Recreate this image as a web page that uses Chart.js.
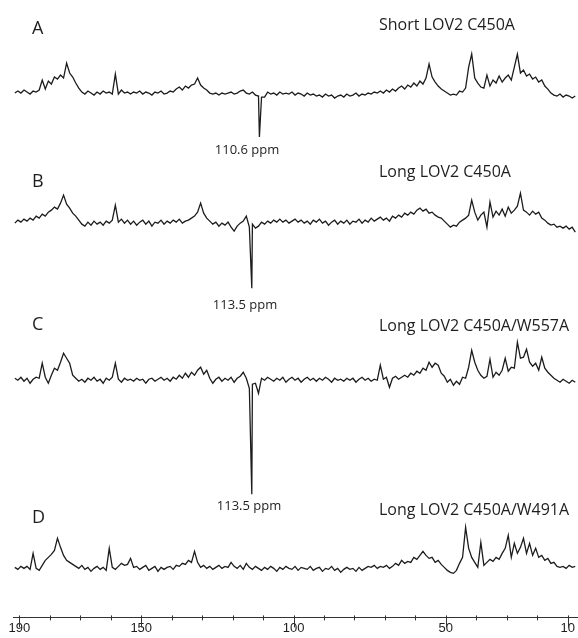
<!DOCTYPE html>
<html>
<head>
<meta charset="utf-8">
<script src="https://cdn.jsdelivr.net/npm/chart.js@4.4.1/dist/chart.umd.min.js"></script>
<style>
  html, body { margin: 0; padding: 0; background: #fff; }
  #wrap { width: 578px; height: 638px; position: relative; }
</style>
</head>
<body>
<div id="wrap"><canvas id="nmrChart"></canvas></div>
<script>
// Chemical shift grid (ppm), one point per ppm, high to low
const PPM_FIRST = 191.5;
const PPM_COUNT = 185;
const ppm = Array.from({ length: PPM_COUNT }, (_, i) => PPM_FIRST - i);

// Spectrum intensities (arbitrary units)
const shortC450A = [
  2, 4, 2, 5, 3, 1, 4, 3, 5, 15,
  6, 14, 11, 18, 16, 20, 17, 32, 22, 18,
  12, 7, 3, 1, 4, 2, 0, 3, 1, 4,
  2, 3, 1, 21, 1, 5, 2, 3, 1, 3,
  2, 4, 1, 3, 2, 0, 3, 2, 4, 1,
  2, 4, 3, 6, 8, 5, 9, 7, 10, 11,
  17, 10, 7, 5, 2, 1, 2, 0, 2, 1,
  2, 3, 1, 2, 4, 5, 2, 1, 3, 0,
  -1, -2, -2, 3, 1, 2, 0, 3, 1, 2,
  1, 3, 0, 2, 1, -1, 2, 0, 1, -1,
  0, -2, 1, -1, 0, -3, -1, 0, -2, 1,
  -1, 0, 2, -1, 1, 0, 2, 1, 3, 2,
  4, 2, 5, 3, 6, 4, 7, 9, 6, 10,
  8, 12, 9, 14, 11, 17, 31, 18, 13, 9,
  6, 4, 2, 0, 1, 0, 4, 3, 7, 28,
  41, 17, 12, 8, 7, 20, 9, 15, 12, 19,
  13, 17, 20, 15, 28, 41, 22, 25, 19, 21,
  16, 18, 13, 15, 9, 6, 2, 0, -1, 1,
  -2, 0, -1, -3, -1
];
const longC450A = [
  1, 4, 2, 5, 3, 6, 4, 8, 6, 10,
  8, 12, 14, 17, 15, 21, 29, 20, 16, 11,
  8, 4, 0, -2, 2, -1, 3, 0, 2, -1,
  3, 1, 4, 19, 2, 5, 1, 4, 0, 3,
  -1, 2, 4, 0, 3, -2, 2, 1, 4, 0,
  3, 1, 4, 2, 5, 1, 3, 4, 6, 8,
  12, 21, 11, 6, 3, 0, 2, -2, 1, -1,
  2, -3, -7, -2, 1, 3, 8, -3, 0, -4,
  -2, 2, 0, 3, 1, 4, 2, 5, 2, 4,
  1, 3, 5, 2, 4, 1, 3, 0, 4, 2,
  5, 1, 3, -1, 2, 4, 0, 3, 1, 4,
  0, 3, 2, 5, 1, 4, 2, 6, 3, 5,
  7, 4, 6, 3, 8, 6, 9, 7, 11, 9,
  12, 10, 14, 16, 13, 15, 11, 12, 9, 7,
  6, 3, 0, -3, -1, -2, 2, 4, 6, 9,
  24, 12, 4, 9, 12, -3, 22, 7, 13, 9,
  15, 8, 17, 11, 14, 18, 31, 14, 12, 9,
  13, 10, 12, 6, 4, 1, -1, 0, -3, -2,
  -4, -2, -5, -3, -8
];
const longW557A = [
  2, 0, 3, -1, 2, -3, 1, 3, 2, 17,
  3, -3, 5, 12, 10, 18, 27, 22, 17, 5,
  2, -1, 1, -2, 2, 0, 3, -1, 1, -3,
  2, 0, 3, 17, 1, -2, 2, 0, 1, -1,
  2, 0, 1, -3, 1, 2, -1, 1, 3, 0,
  2, -1, 3, 1, 5, 2, 7, 3, 8, 5,
  10, 13, 6, 10, 2, -3, 1, 3, -1, 2,
  0, 3, -2, 2, 4, 8, 2, -8, -4, -3,
  -13, 2, 0, 3, 1, -1, 2, 0, 3, -2,
  1, 3, 0, 2, -2, 1, 3, 0, 2, -1,
  2, 0, 3, 1, -2, 2, 0, 1, -1, 2,
  0, 2, -2, 1, 3, 0, 2, -1, 1, 0,
  15, 1, 3, -7, 2, 4, 1, 3, 5, 3,
  7, 5, 9, 7, 12, 10, 18, 13, 17, 15,
  7, 4, -2, 1, -5, -1, -4, 3, 2, 13,
  30, 18, 10, 5, 2, 4, 21, 3, 8, 5,
  10, 22, 9, 13, 12, 38, 22, 23, 31, 18,
  14, 17, 10, 23, 12, 8, 5, 2, 0, -2,
  1, -1, -3, 0, -2
];
const longW491A = [
  1, -1, 2, 0, 2, -1, 15, 0, -2, 3,
  8, 11, 14, 18, 30, 21, 13, 8, 6, 4,
  2, 0, 3, -1, 1, -3, 0, 2, -1, 1,
  -2, 20, 1, -1, 2, 5, 3, 4, 10, 1,
  2, -1, 1, 3, -2, 0, 2, -3, 1, -1,
  1, 2, -1, 3, 2, 5, 4, 8, 6, 17,
  6, 1, 3, 0, 2, -1, 1, 3, 0, 2,
  1, 6, 2, 0, 3, -1, 5, 1, -1, 2,
  0, -2, 1, -1, 2, 0, -3, 1, -1, 2,
  0, -1, 2, -2, 1, 0, -1, 2, -2, 0,
  1, -3, 0, -1, 2, -2, 0, -4, -1, 1,
  -1, 0, -3, 1, -2, 0, 2, 1, 3, 0,
  2, 1, 3, 0, 2, 5, 3, 8, 5, 7,
  6, 11, 9, 13, 17, 13, 10, 11, 6, 8,
  4, 1, -2, -4, -5, -2, 5, 11, 41, 20,
  11, 6, 1, 26, 3, 6, 9, 7, 11, 9,
  15, 20, 33, 11, 25, 15, 21, 30, 15, 25,
  13, 20, 11, 13, 8, 10, 5, 6, 2, 1,
  2, 0, 3, 1, 2
];

// sharp negative lines: [ppm, intensity] (null = none)
const sharpDips = [[111.2, -42], [113.7, -64], [113.7, -114], null];

const spectra = [shortC450A, longC450A, longW557A, longW491A];
const panelLetters = ['A', 'B', 'C', 'D'];
const panelTitles = ['Short LOV2 C450A', 'Long LOV2 C450A', 'Long LOV2 C450A/W557A', 'Long LOV2 C450A/W491A'];
const peakLabels = ['110.6 ppm', '113.5 ppm', '113.5 ppm', null];
const majorTicks = [190, 150, 100, 50, 10];

// layout: vertical stacking offsets (in y units) and text anchors (px)
const stackOffset = [522, 393, 237, 49];
const letterPos = [[32, 29], [32, 182], [32, 325], [32, 518]];
const titlePos = [[379, 25], [379, 172], [379, 326], [379, 510]];
const peakLabelPos = [[247, 150], [245, 305], [249, 506], null];

const datasets = spectra.map((vals, k) => {
  const pts = vals.map((v, i) => ({ x: ppm[i], y: v + stackOffset[k] }));
  if (sharpDips[k]) pts.push({ x: sharpDips[k][0], y: sharpDips[k][1] + stackOffset[k] });
  pts.sort((a, b) => b.x - a.x);
  return {
    label: panelTitles[k],
    data: pts,
    borderColor: '#1c1c1c',
    borderWidth: 1.3,
    pointRadius: 0,
    tension: 0,
    fill: false
  };
});

// text labels + long major ticks
const decorations = {
  id: 'decorations',
  afterDraw(chart) {
    const ctx = chart.ctx;
    const xs = chart.scales.x;
    const yAxis = chart.chartArea.bottom;
    ctx.save();
    ctx.strokeStyle = '#333';
    ctx.lineWidth = 1;
    for (let v = 10; v <= 190; v += 10) {
      const px = Math.round(xs.getPixelForValue(v)) + 0.5;
      const len = majorTicks.includes(v) ? 7 : 0;
      ctx.beginPath();
      ctx.moveTo(px, yAxis - 2);
      ctx.lineTo(px, yAxis + 3 + len);
      ctx.stroke();
    }
    ctx.fillStyle = '#1e1e1e';
    ctx.textBaseline = 'middle';
    ctx.textAlign = 'left';
    ctx.font = '18px "Open Sans"';
    letterPos.forEach((p, k) => ctx.fillText(panelLetters[k], p[0], p[1]));
    ctx.font = '16px "Open Sans"';
    titlePos.forEach((p, k) => ctx.fillText(panelTitles[k], p[0], p[1]));
    ctx.textAlign = 'center';
    ctx.font = '13px "Open Sans"';
    peakLabelPos.forEach((p, k) => { if (p) ctx.fillText(peakLabels[k], p[0], p[1]); });
    ctx.restore();
  }
};

const ctx = document.getElementById('nmrChart').getContext('2d');
new Chart(ctx, {
  type: 'line',
  data: { datasets: datasets },
  options: {
    responsive: true,
    maintainAspectRatio: false,
    animation: false,
    layout: { padding: { left: 13, right: 0, top: 0, bottom: 2 } },
    plugins: { legend: { display: false }, tooltip: { enabled: false } },
    scales: {
      x: {
        type: 'linear',
        reverse: true,
        min: 6.6,
        max: 192.1,
        afterBuildTicks(scale) {
          scale.ticks = [];
          for (let v = 190; v >= 10; v -= 10) scale.ticks.push({ value: v });
        },
        grid: { display: true, drawOnChartArea: false, drawTicks: true, tickLength: 3, color: 'rgba(0,0,0,0)' },
        border: { display: true, color: '#333', width: 1 },
        ticks: {
          autoSkip: false,
          maxRotation: 0,
          padding: 0,
          color: '#1e1e1e',
          font: { family: '"Liberation Sans", Arial, sans-serif', size: 13 },
          callback: (v) => majorTicks.includes(v) ? String(v) : ''
        }
      },
      y: { display: false, min: 0, max: 617 }
    }
  },
  plugins: [decorations]
});
</script>
</body>
</html>
